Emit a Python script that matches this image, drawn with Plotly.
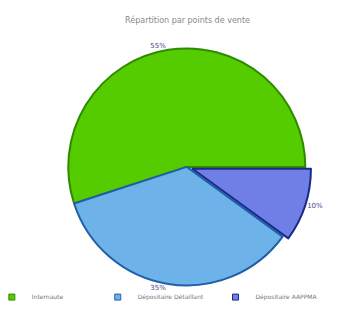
import plotly.graph_objects as go

labels = ["Internaute", "Dépositaire Détaillant", "Dépositaire AAPPMA"]
values = [55, 35, 10]
colors = ["#55cc00", "#6db3ea", "#6f7fe6"]
edge_colors = ["#2f8a00", "#1f5fa8", "#1a2a8a"]
pulls = [0, 0.0, 0.05]
legend_x = [-0.045, 0.25, 0.578]

fig = go.Figure()
fig.add_trace(go.Pie(
    labels=labels,
    values=values,
    sort=False,
    direction="counterclockwise",
    rotation=-108,
    pull=pulls,
    marker=dict(colors=colors, line=dict(color=edge_colors, width=2)),
    texttemplate="%{percent:.0%}",
    textposition="outside",
    textfont=dict(family="DejaVu Sans", size=7, color="#4b3f8f"),
    hoverinfo="label+percent",
    showlegend=False,
    domain=dict(x=[0.043, 0.953], y=[0.086, 0.991]),
))

legend_names = ["legend", "legend2", "legend3"]
for i, (lab, col, ecol) in enumerate(zip(labels, colors, edge_colors)):
    fig.add_trace(go.Scatter(
        x=[None], y=[None], mode="markers", name=lab,
        marker=dict(symbol="square", size=6, color=col, line=dict(color=ecol, width=1)),
        legend=legend_names[i], showlegend=True,
    ))

leg_common = dict(orientation="h", xref="paper", yref="container", y=0.088, yanchor="middle",
                  xanchor="left", font=dict(family="DejaVu Sans", size=6, color="#777777"),
                  itemwidth=30, bgcolor="rgba(0,0,0,0)")

fig.update_layout(
    width=359, height=317,
    margin=dict(l=0, r=0, t=32, b=10, autoexpand=False),
    paper_bgcolor="white",
    plot_bgcolor="white",
    xaxis=dict(visible=False),
    yaxis=dict(visible=False),
    title=dict(text="Répartition par points de vente", x=0.5, y=0.96, xanchor="center",
               yanchor="middle",
               font=dict(family="DejaVu Sans", size=8, color="#888888")),
    legend=dict(x=legend_x[0], **leg_common),
    legend2=dict(x=legend_x[1], **leg_common),
    legend3=dict(x=legend_x[2], **leg_common),
)

fig.write_html("out.html")
